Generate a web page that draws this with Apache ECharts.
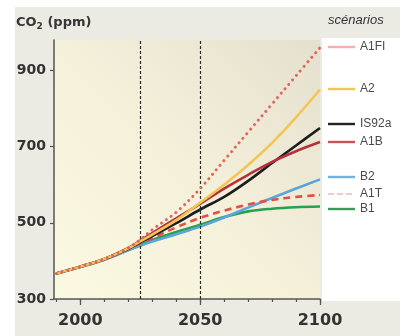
<!DOCTYPE html>
<html>
<head>
<meta charset="utf-8">
<script src="https://cdn.jsdelivr.net/npm/echarts@6/dist/echarts.min.js"></script>
<style>html,body{margin:0;padding:0;background:#fff;}#c{width:400px;height:336px;}</style>
</head>
<body>
<div id="c"></div>
<script>
// ---- data ----
var years = [1990, 2000, 2010, 2020, 2025, 2030, 2040, 2050, 2060, 2070, 2080, 2090, 2100];
var A1FI  = [367, 385, 405, 434, 456, 482, 528, 590, 664, 738, 812, 886, 960];
var A2    = [367, 385, 405, 433, 451, 469, 507, 553, 600, 652, 710, 777, 850];
var IS92a = [367, 385, 405, 432, 449, 465, 499, 535, 568, 610, 657, 703, 749];
var A1B   = [367, 385, 405, 434, 453, 473, 512, 550, 590, 626, 660, 688, 712];
var B2    = [367, 384, 403, 428, 440, 451, 470, 490, 514, 540, 565, 590, 614];
var A1T   = [367, 385, 404, 431, 446, 460, 488, 513, 532, 548, 560, 568, 573];
var B1    = [367, 384, 403, 429, 442, 455, 476, 495, 515, 530, 537, 541, 543];
var scenarioNames = ['A1FI', 'A2', 'IS92a', 'A1B', 'B2', 'A1T', 'B1'];
var yTickLabels = [300, 500, 700, 900];
var xTickLabels = [2000, 2050, 2100];
var xMinorTicks = [1990, 2000, 2010, 2020, 2030, 2040, 2050, 2060, 2070, 2080, 2090, 2100];
var periodLines = [2025, 2050];

function pairs(vals) { return years.map(function (y, i) { return [y, vals[i]]; }); }

var styles = {
  A1FI:  { color: '#e0675d', width: 3, type: [0.1, 5.8], cap: 'round', legendColor: '#f0b2b0', dashed: false },
  A2:    { color: '#f2c555', width: 2.6, type: 'solid', legendColor: '#f0c550', dashed: false },
  IS92a: { color: '#1d1d1d', width: 2.6, type: 'solid', legendColor: '#222222', dashed: false },
  A1B:   { color: '#b8313a', width: 2.6, type: 'solid', legendColor: '#c8545a', dashed: false },
  B2:    { color: '#5aa6dc', width: 2.6, type: 'solid', legendColor: '#72b2e2', dashed: false },
  A1T:   { color: '#e04f48', width: 2.6, type: [7, 5], legendColor: '#e89a96', dashed: true },
  B1:    { color: '#27a050', width: 2.6, type: 'solid', legendColor: '#3a9a5a', dashed: false }
};
var dataMap = { A1FI: A1FI, A2: A2, IS92a: IS92a, A1B: A1B, B2: B2, A1T: A1T, B1: B1 };
var legendCenters = { A1FI: 48, A2: 90, IS92a: 125, A1B: 143, B2: 178, A1T: 195, B1: 210 };

var drawOrder = ['B1', 'B2', 'A1T', 'IS92a', 'A1B', 'A2', 'A1FI'];
var series = drawOrder.map(function (n, idx) {
  var s = styles[n];
  return {
    name: n, type: 'line', data: pairs(dataMap[n]), smooth: 0.35, symbol: 'none',
    silent: true, z: 3 + idx,
    itemStyle: { color: s.color },
    lineStyle: { color: s.color, width: s.width, type: s.type, cap: s.cap || 'butt' }
  };
});
series.push({
  type: 'line', data: [], silent: true,
  markLine: {
    silent: true, symbol: 'none', label: { show: false },
    lineStyle: { color: '#2a2a2a', width: 1.2, type: [3, 2] },
    data: periodLines.map(function (v) { return { xAxis: v }; })
  }
});

var dashIcon = 'path://M0,0h6v1h-6z M9,0h6v1h-6z M18,0h6v1h-6z M27,0h0.01v1h-0.01z';
var legends = scenarioNames.map(function (n) {
  var s = styles[n];
  return {
    data: [n], left: 328, top: legendCenters[n] - 7, padding: 0,
    icon: s.dashed ? dashIcon : 'rect',
    itemWidth: 27, itemHeight: 2.4, itemGap: 10, selectedMode: false,
    itemStyle: { color: s.legendColor, borderWidth: 0 },
    textStyle: { color: '#4a4a4a', fontSize: 12, fontFamily: 'Liberation Sans' }
  };
});

var chart = echarts.init(document.getElementById('c'), null, { renderer: 'canvas' });
chart.setOption({
  animation: false,
  backgroundColor: '#ffffff',
  graphic: [
    { type: 'rect', z: -10, shape: { x: 15, y: 7, width: 385, height: 329 }, style: { fill: '#ebeae3' } },
    { type: 'rect', z: -9, shape: { x: 322, y: 38, width: 78, height: 263 }, style: { fill: '#ffffff' } }
  ],
  title: [
    { text: 'CO{s|2} (ppm)', left: 16, top: 14, padding: 0,
      textStyle: { fontFamily: 'DejaVu Sans', fontWeight: 'bold', fontSize: 13, color: '#353535',
        rich: { s: { fontFamily: 'DejaVu Sans', fontWeight: 'bold', fontSize: 9, color: '#353535', padding: [8, 0, 0, 0] } } } },
    { text: 'scénarios', left: 328, top: 14, padding: 0,
      textStyle: { fontFamily: 'Liberation Sans', fontStyle: 'italic', fontWeight: 'normal', fontSize: 13, color: '#333' } }
  ],
  legend: legends,
  grid: {
    left: 54, right: 80, top: 40, bottom: 37, show: true, borderWidth: 0,
    backgroundColor: new echarts.graphic.LinearGradient(0, 1, 1, 0, [
      { offset: 0, color: '#fcf9e2' }, { offset: 0.5, color: '#f4f0da' }, { offset: 1, color: '#e4e0ce' }
    ])
  },
  xAxis: [
    {
      type: 'value', min: 1989, max: 2100,
      axisLine: { show: true, lineStyle: { color: '#555', width: 1.5 } },
      axisTick: { show: true, length: 3, customValues: xMinorTicks, lineStyle: { color: '#555', width: 1.2 } },
      axisLabel: { show: true, customValues: xTickLabels, margin: 14,
        formatter: function (v) { return String(v); },
        fontFamily: 'DejaVu Sans', fontWeight: 'bold', fontSize: 16, color: '#333' },
      splitLine: { show: false }
    },
    {
      type: 'value', min: 1989, max: 2100, position: 'bottom',
      axisLine: { show: false },
      axisTick: { show: true, length: 6, customValues: xTickLabels, lineStyle: { color: '#555', width: 1.3 } },
      axisLabel: { show: false },
      splitLine: { show: false }
    }
  ],
  yAxis: {
    type: 'value', min: 300, max: 980,
    axisLine: { show: true, lineStyle: { color: '#555', width: 1.5 } },
    axisTick: { show: true, length: 4, customValues: yTickLabels, lineStyle: { color: '#555', width: 1.2 } },
    axisLabel: { show: true, customValues: yTickLabels, margin: 8,
      formatter: function (v) { return String(v); },
      fontFamily: 'DejaVu Sans', fontWeight: 'bold', fontSize: 14, color: '#333' },
    splitLine: { show: false }
  },
  series: series
});
</script>
</body>
</html>
